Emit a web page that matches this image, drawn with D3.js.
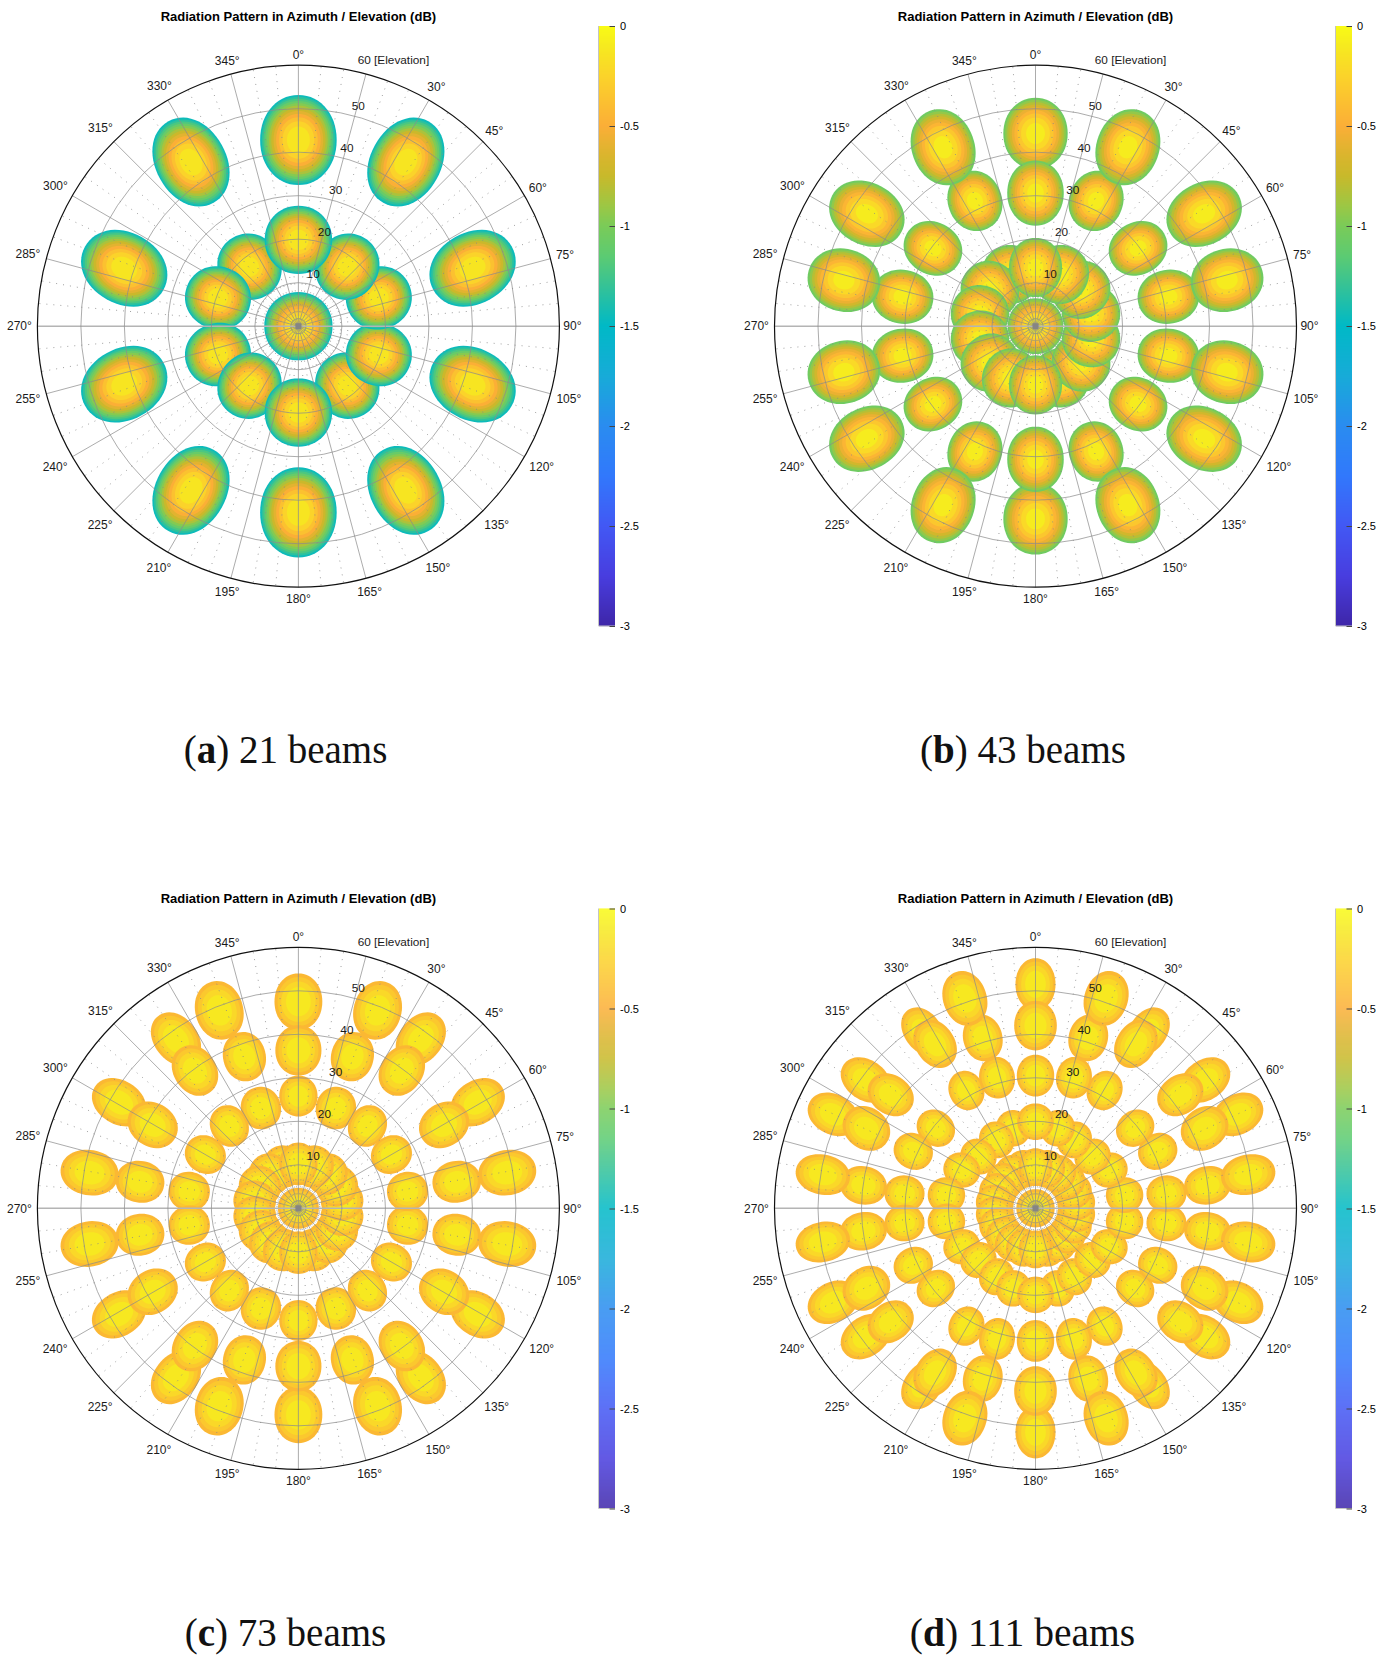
<!DOCTYPE html>
<html>
<head>
<meta charset="utf-8">
<script src="https://cdn.jsdelivr.net/npm/d3@7"></script>
<style>
body { margin: 0; background: #fff; }
svg text { font-family: "Liberation Sans", Arial, sans-serif; fill: #1a1a1a; }
</style>
</head>
<body>
<svg id="chart" width="1380" height="1657"></svg>
<script>
var titleText = "Radiation Pattern in Azimuth / Elevation (dB)";
var captionLetters = ["a", "b", "c", "d"];
var captionTexts = ["21 beams", "43 beams", "73 beams", "111 beams"];
var elevationTicks = [10, 20, 30, 40, 50];
var colorbarTicks = [0, -0.5, -1, -1.5, -2, -2.5, -3];
var colorbarLabels = ["0", "-0.5", "-1", "-1.5", "-2", "-2.5", "-3"];

// colormap (dB, colour)
var colorValues = [0, -0.1, -0.25, -0.5, -0.65, -0.75, -0.9, -1, -1.15, -1.3, -1.5, -1.75, -2, -2.25, -2.5, -2.75, -3];
var colorStops = ["#f9fb15", "#f6ea1f", "#fbd32a", "#fbae37", "#d9b52d", "#c8b92b", "#9cc744", "#7acb58", "#5ccb72", "#35c296", "#00b9c6", "#17abd8", "#2a8cf0", "#3178fc", "#4258f4", "#483ddf", "#3e26a8"];

// beams of one quadrant, [azimuth, elevation, major semi axis, minor semi axis, major axis azimuth], degrees
// the other three quadrants are mirrored from these
var centerA = [[0, 0, 7.85, 7.85, 0]];
var innerA = [[0, 19.85, 7.85, 7.75, 0], [39.4, 17.7, 7.7, 7.2, 30], [70.6, 19.6, 7.6, 7.2, 70]];
var outerA = [[0, 42.8, 10.36, 8.8, 0], [33.2, 45.1, 10.7, 8.1, 29], [71.6, 42.2, 10.3, 8.2, 61]];

var centerB = [[0, 0, 6.4, 6.4, 0]];
var innerB = [[0, 13.5, 6.8, 6.1, 0], [25.7, 13.2, 6.8, 6.5, 25], [51.4, 13.4, 6.8, 6.5, 50], [77.1, 13.1, 6.7, 6.5, 76]];
var midB = [[0, 30.6, 7.5, 6.5, 0], [25.8, 32, 7, 6.2, 20], [52.8, 29.6, 6.9, 6, 60], [77.5, 31.3, 7.1, 6.2, 80]];
var outerLowB = [[0, 44.3, 8.2, 7.4, 0]];
var outerHighB = [[27.3, 46.3, 8.9, 7.2, 20], [56.3, 46.6, 9, 7.1, 62], [76.5, 45.3, 8.4, 7.2, 75]];

var centerC = [[0, 0, 4.7, 4.7, 0]];
var ring1C = [[0, 10.2, 4.9, 4.4, 0], [20, 10.2, 4.9, 4.6, 20], [40, 10.2, 4.9, 4.6, 40], [60, 10.2, 4.9, 4.6, 60], [80, 10.2, 4.9, 4.6, 80]];
var ring2C = [[0, 25.8, 4.7, 4.4, 0], [20.5, 24.6, 4.9, 4.6, 15], [40, 24.7, 4.9, 4.3, 30], [60, 24.7, 4.8, 4.3, 60], [81.2, 25.4, 4.75, 4.5, 80]];
var ring3C = [[0, 36.3, 5.8, 5.3, 0], [19.6, 37, 5.7, 4.9, 14], [36.9, 39.6, 6.1, 4.9, 33], [60.2, 38.6, 6, 5, 57], [80.5, 36.9, 5.6, 4.8, 80]];
var ring4LowC = [[0, 47.5, 6.5, 5.5, 0], [35.9, 48, 6.7, 5, 38], [59.4, 47.9, 6.6, 5, 58]];
var ring4HighC = [[21.8, 49, 6.8, 5.5, 15], [80.3, 48.7, 6.7, 5.2, 80]];

var centerD = [[0, 0, 4.4, 4.4, 0]];
var ring1D = [[0, 9.45, 4.35, 3.9, 0], [16.4, 9.45, 4.35, 4.1, 16], [32.7, 9.45, 4.35, 4.1, 33], [49.1, 9.45, 4.35, 4.1, 49], [65.5, 9.45, 4.35, 4.1, 65], [81.8, 9.45, 4.35, 4.1, 82]];
var ring2D = [[0, 19.9, 4.2, 4.2, 0], [15.5, 19.1, 4.2, 3.9, 15], [29.6, 18.1, 4.3, 3.9, 30], [47.8, 17.7, 4.3, 3.9, 48], [62.5, 19.1, 4.3, 3.9, 62], [81.6, 20.7, 4.3, 4.1, 82]];
var ring3D = [[0, 30.5, 4.8, 4.3, 0], [16.4, 31.3, 4.8, 4.1, 10], [30.4, 31.4, 4.6, 4, 25], [51.2, 29.4, 4.6, 4, 50], [65, 31, 4.6, 4.1, 60], [83.6, 30.3, 4.6, 4.2, 85]];
var ring4D = [[0, 42, 5.7, 4.9, 0], [17.2, 41, 5.4, 4.5, 15], [31.4, 44.3, 5.9, 4.5, 33], [51.9, 42.3, 5.6, 4.5, 55], [64.7, 43, 5.7, 4.8, 55], [82.4, 39.9, 5.4, 4.4, 80]];
var ring5LowD = [[0, 51.5, 6, 4.6, 0], [32.5, 48.2, 6, 4.3, 35], [52.9, 48.9, 6.2, 4.6, 55], [65.1, 51.3, 6.1, 4.6, 62]];
var ring5HighD = [[18.6, 50.9, 6.4, 5, 18], [81, 49.5, 6.3, 4.6, 78]];

// beam groups in drawing order and the level reached at the beam border (dB)
var beamGroups = [
    [outerA, innerA, centerA],
    [outerLowB, midB, outerHighB, innerB, centerB],
    [ring4LowC, ring3C, ring4HighC, ring2C, ring1C, centerC],
    [ring5LowD, ring4D, ring5HighD, ring3D, ring2D, ring1D, centerD]
];
var borderLevels = [-1.45, -1.05, -0.43, -0.43];
var levelSteps = [0.12, 0.12, 0.105, 0.105];

var radius = 261;
var panelX = [298.4, 1035.5, 298.4, 1035.5];
var panelY = [326.2, 326.2, 1208.3, 1208.3];
var barX = [599, 1336, 599, 1336];
var barY = [26, 26, 908.5, 908.5];
var barW = 16, barH = 600;
var captionX = [285.5, 1023, 285.5, 1022.5];
var captionY = [763, 763, 1646, 1646];
var captionSizes = [39, 39, 39, 39.5];

// distance of the azimuth labels from the outer circle, 0 to 345 deg in 15 deg steps
var azLabelGaps = [10.5, 0, 15, 16, 15.5, 15, 13, 19, 20, 19.5, 18, 14, 11.5, 14, 18, 19.5, 20, 19, 18, 19, 19.6, 19, 17, 14];

var svg = d3.select("#chart");
var colorScale = d3.scaleLinear().domain(colorValues).range(colorStops);

// four mirrored copies of one quadrant beam
var mirrorBeams = function (row) {
    var all = [];
    row.forEach(function (d) {
        var flips = d[0] === 0 ? (d[1] === 0 ? [1] : [1, 2]) : [1, 2, 3, 4];
        flips.forEach(function (f) {
            var m = function (v) { return f === 1 ? v : f === 2 ? 180 - v : f === 3 ? -v : v - 180; };
            all.push([m(d[0]), d[1], d[2], d[3], m(d[4])]);
        });
    });
    // right side goes bottom to top, left side top to bottom, 0 and 180 last
    var key = function (b) {
        var az = b[0];
        if (az === 0 || az === 180) return 1000 + az;
        return 180 - az;
    };
    return all.sort(function (p, q) { return key(p) - key(q); });
};

// beams are a touch fuller than a plain ellipse
var bulge = function (v) {
    return (v < 0 ? -1 : 1) * Math.pow(Math.abs(v), 2 / 2.07);
};

var drawPanel = function (i) {
    var cx = panelX[i], cy = panelY[i];
    var g = svg.append("g").attr("class", "panel");
    var x = d3.scaleLinear().domain([-60, 60]).range([cx - radius, cx + radius]);
    var y = d3.scaleLinear().domain([-60, 60]).range([cy + radius, cy - radius]);
    var r = d3.scaleLinear().domain([0, 60]).range([0, radius]);
    var rad = Math.PI / 180;

    var levels = [];
    for (var l = borderLevels[i]; l < -levelSteps[i] * 0.5; l += levelSteps[i]) levels.push(l);

    var outline = d3.line().x(function (p) { return x(p[0]); }).y(function (p) { return y(p[1]); }).curve(d3.curveLinearClosed);
    var angles = d3.range(0, 360, 6);

    // beams
    beamGroups[i].forEach(function (row) {
        mirrorBeams(row).forEach(function (b) {
            var e0 = b[1] * Math.sin(b[0] * rad), n0 = b[1] * Math.cos(b[0] * rad);
            var s = Math.sin(b[4] * rad), c = Math.cos(b[4] * rad);
            levels.forEach(function (lev) {
                var f = Math.sqrt(lev / borderLevels[i]);
                var pts = angles.map(function (t) {
                    var u = b[2] * f * bulge(Math.cos(t * rad)), v = b[3] * f * bulge(Math.sin(t * rad));
                    return [e0 + u * s + v * c, n0 + u * c - v * s];
                });
                g.append("path").attr("d", outline(pts)).attr("fill", colorScale(lev));
            });
        });
    });

    // minor spokes
    d3.range(0, 360, 5).filter(function (a) { return a % 15 !== 0; }).forEach(function (a) {
        g.append("line")
            .attr("x1", cx).attr("y1", cy)
            .attr("x2", x(60 * Math.sin(a * rad))).attr("y2", y(60 * Math.cos(a * rad)))
            .attr("stroke", "#888").attr("stroke-width", 0.8).attr("stroke-dasharray", "1 6");
    });
    // major spokes
    d3.range(0, 360, 15).forEach(function (a) {
        var horizontal = a === 90 || a === 270;
        g.append("line")
            .attr("x1", cx).attr("y1", cy)
            .attr("x2", x(60 * Math.sin(a * rad))).attr("y2", y(60 * Math.cos(a * rad)))
            .attr("stroke", horizontal ? "#b4b4b4" : "#8c8c8c")
            .attr("stroke-opacity", horizontal ? 1 : 0.8)
            .attr("stroke-width", horizontal ? 1.4 : 0.9);
    });
    // elevation rings
    elevationTicks.forEach(function (e) {
        g.append("circle").attr("cx", cx).attr("cy", cy).attr("r", r(e))
            .attr("fill", "none").attr("stroke", "#8c8c8c").attr("stroke-opacity", 0.8).attr("stroke-width", 0.9);
    });
    g.append("rect").attr("x", cx - 3).attr("y", cy - 3).attr("width", 6).attr("height", 6).attr("fill", "#858585");
    g.append("circle").attr("cx", cx).attr("cy", cy).attr("r", radius)
        .attr("fill", "none").attr("stroke", "#111").attr("stroke-width", 1.2);

    // azimuth labels, 15 deg place is taken by the elevation label
    d3.range(0, 360, 15).filter(function (a) { return a !== 15; }).forEach(function (a) {
        var off = azLabelGaps[a / 15];
        g.append("text")
            .attr("x", cx + (radius + off) * Math.sin(a * rad))
            .attr("y", cy - (radius + off) * Math.cos(a * rad))
            .attr("dy", "0.35em").attr("text-anchor", "middle")
            .style("font-size", "12px").text(a + "\u00b0");
    });
    // elevation labels
    elevationTicks.forEach(function (e) {
        g.append("text")
            .attr("x", cx + r(e) * Math.sin(15 * rad) + 3.5)
            .attr("y", cy - r(e) * Math.cos(15 * rad) - 10.5)
            .attr("dy", "0.35em").attr("text-anchor", "middle")
            .style("font-size", "11.8px").text(e);
    });
    g.append("text")
        .attr("x", cx + 59.3).attr("y", cy - 266.8).attr("dy", "0.35em")
        .style("font-size", "11.8px").text("60 [Elevation]");

    // title
    g.append("text")
        .attr("x", cx).attr("y", cy - 309.4).attr("dy", "0.35em").attr("text-anchor", "middle")
        .style("font-size", "13px").style("font-weight", "bold").style("fill", "#000").text(titleText);

    // colorbar
    var barScale = d3.scaleLinear().domain([0, -3]).range([barY[i], barY[i] + barH]);
    d3.range(0, barH).forEach(function (k) {
        g.append("rect")
            .attr("x", barX[i]).attr("y", barY[i] + k)
            .attr("width", barW).attr("height", 1.2)
            .attr("fill", colorScale(barScale.invert(barY[i] + k + 0.5)));
    });
    g.append("path")
        .attr("d", "M" + (barX[i] - 0.5) + "," + barY[i] + "V" + (barY[i] + barH) + "H" + (barX[i] + barW))
        .attr("fill", "none").attr("stroke", "#c4c4c4").attr("stroke-width", 1);
    var barAxis = d3.axisRight(barScale)
        .tickValues(colorbarTicks)
        .tickFormat(function (v, n) { return colorbarLabels[n]; })
        .tickSize(-5.5).tickPadding(5);
    var axisG = g.append("g").attr("transform", "translate(" + (barX[i] + barW) + ",0)").call(barAxis);
    axisG.select(".domain").remove();
    axisG.selectAll("line").attr("stroke", "#444");
    axisG.selectAll("text").style("font-size", "11px").style("fill", "#000");

    // caption
    var cap = svg.append("text")
        .attr("x", captionX[i]).attr("y", captionY[i]).attr("text-anchor", "middle")
        .style("font-family", '"Liberation Serif", serif').style("font-size", captionSizes[i] + "px").style("fill", "#111");
    cap.append("tspan").text("(");
    cap.append("tspan").style("font-weight", "bold").text(captionLetters[i]);
    cap.append("tspan").text(") " + captionTexts[i]);
};

d3.range(0, 4).forEach(drawPanel);
</script>
</body>
</html>
